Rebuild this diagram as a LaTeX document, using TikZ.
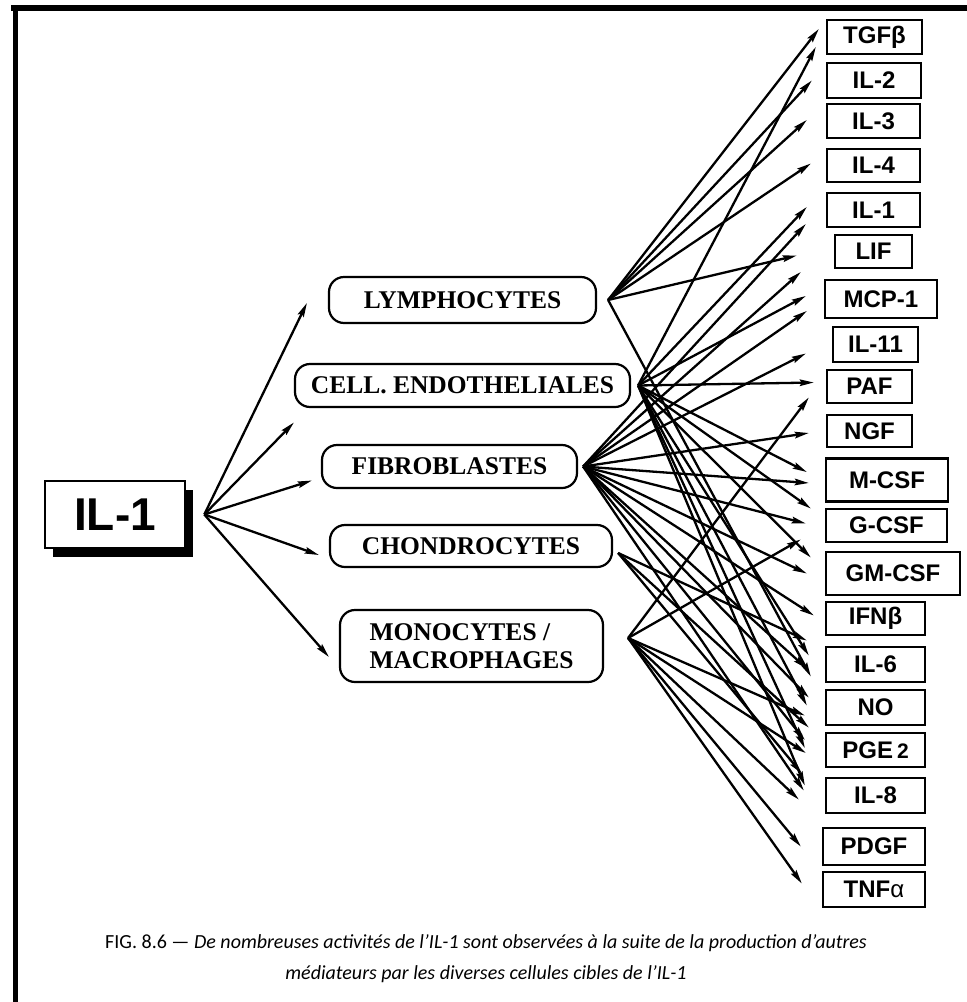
\documentclass[tikz,border=0pt]{standalone}
\usepackage{fontspec}
\setmainfont{Liberation Serif}
\setsansfont{Liberation Sans}
\newfontfamily\capfont{Carlito}
\usetikzlibrary{arrows.meta,shadows}

\begin{document}
\begin{tikzpicture}[x=1pt,y=-1pt,
  arr/.style={line width=2.3pt,-{Stealth[length=14pt,width=6.5pt,inset=2pt]}},
  medbox/.style={draw,line width=2.4pt,inner sep=0pt,
    font=\sffamily\bfseries\fontsize{24}{24}\selectfont},
  cellbox/.style={draw,line width=2.2pt,rounded corners=15pt,inner sep=0pt,
    font=\bfseries\fontsize{25.5}{28}\selectfont},
  mainbox/.style={draw,line width=2.6pt,fill=white,inner sep=0pt,
    minimum width=140pt,minimum height=67pt,
    font=\sffamily\bfseries\fontsize{46}{46}\selectfont,
    drop shadow={shadow xshift=8pt,shadow yshift=-9pt,opacity=1,fill=black}}
]
\useasboundingbox (0,0) rectangle (967,1002);

% frame
\draw[line width=6pt] (11,7.5) -- (967,7.5);
\draw[line width=5pt] (15.5,5) -- (15.5,1002);

% central cytokine
\node[mainbox] (ilmain) at (115,514.5) {IL-1};
\coordinate (hub) at ([xshift=18pt]ilmain.east);

% target cells
\node[cellbox,minimum width=267pt,minimum height=46pt] (lym)  at (462.5,300)   {LYMPHOCYTES};
\node[cellbox,minimum width=335pt,minimum height=43pt] (endo) at (462.5,385.5) {CELL. ENDOTHELIALES};
\node[cellbox,minimum width=255pt,minimum height=43pt] (fib)  at (449.5,466.5) {FIBROBLASTES};
\node[cellbox,minimum width=282pt,minimum height=42pt] (cho)  at (471,546)     {CHONDROCYTES};
\node[cellbox,minimum width=263pt,minimum height=72pt,align=left] (mono) at (471.5,646)
  {MONOCYTES /\\MACROPHAGES};

% IL-1 acts on the cells
\draw[arr] (hub) -- ([shift={(-21,3)}]lym.west);
\draw[arr] (hub) -- ([shift={(0,37)}]endo.west);
\draw[arr] (hub) -- ([shift={(-9,14)}]fib.west);
\draw[arr] (hub) -- ([shift={(-10,9)}]cho.west);
\draw[arr] (hub) -- ([shift={(-10,11)}]mono.west);

% mediators
\foreach \n/\cx/\cy/\w/\h/\txt in {
  tgf/874.5/37/95/34/TGFβ,
  iltwo/874/80.5/94/35/IL-2,
  ilthree/873.5/121/93/34/IL-3,
  ilfour/873.5/165.5/93/33/IL-4,
  ilone/873.5/210/93/34/IL-1,
  lif/873.5/251.5/77/33/LIF,
  mcp/881/299/112/38/MCP-1,
  ileleven/875.5/344.5/85/35/IL-11,
  paf/869.5/386.5/85/33/PAF,
  ngf/869.5/431/85/32/NGF,
  mcsf/887/480/122/43/M-CSF,
  gcsf/886.5/525.5/121/33/G-CSF,
  gmcsf/893/573.5/134/43/GM-CSF,
  ifn/875.5/618.5/99/33/IFNβ,
  ilsix/875.5/664.5/99/35/IL-6,
  no/875.5/707.5/99/35/NO,
  pge/875.5/750/99/34/{PGE\,{\fontsize{21}{21}\selectfont 2}},
  ileight/875.5/795.5/99/35/IL-8,
  pdgf/874/846.5/102/37/PDGF,
  tnf/874/889.5/102/35/{TNF{\mdseries α}}}
  \node[medbox,minimum width=\w pt,minimum height=\h pt] (\n) at (\cx,\cy) {\txt};

% points where the arrows leave the cells
\coordinate (Ls) at ([xshift=11pt]lym.east);
\coordinate (Es) at ([xshift=7pt]endo.east);
\coordinate (Fs) at ([xshift=5pt]fib.east);
\coordinate (Cs) at ([shift={(5,7)}]cho.east);
\coordinate (Ms) at ([shift={(24,-8)}]mono.east);

% mediators produced by each cell type
\foreach \s/\t/\dx/\dy in {
  Ls/tgf/-7/-8, Es/tgf/-10/10, Ls/iltwo/-14/0, Ls/ilthree/-19/-1,
  Ls/ilfour/-15/-2, Es/ilone/-19/-3, Fs/ilone/-20/14, Ls/lif/-37/4,
  Fs/mcp/-23/-27, Es/mcp/-18/-3, Fs/mcp/-17/12, Fs/ileleven/-26/9,
  Es/paf/-12/-4, Ms/paf/-17/11, Fs/ngf/-17/2, Es/mcsf/-18/-8,
  Fs/mcsf/-16/3, Es/gcsf/-14/-17, Fs/gcsf/-19/-2, Ms/gcsf/-24/14,
  Es/gmcsf/-14/-16, Fs/gmcsf/-18/0, Fs/ifn/-11/-3, Cs/ilsix/-18/-24,
  Ls/ilsix/-14/12, Es/ilsix/-16/-9, Fs/ilsix/-18/4, Fs/no/-16/-10,
  Es/no/-18/-2, Cs/no/-16/20, Ms/no/-20/8, Ms/pge/-19/3,
  Es/pge/-20/-2, Fs/pge/-20/-10, Cs/ileight/-23/-22, Ms/ileight/-26/4,
  Fs/ileight/-21/-5, Es/ileight/-20/-10, Ms/pdgf/-21/0, Ms/tnf/-20/-6}
  \draw[arr] (\s) -- ([shift={(\dx,\dy)}]\t.west);

% caption
\node[font=\capfont\fontsize{20}{31}\selectfont,align=center,inner sep=0pt] (cap) at (486,959)
  {FIG. 8.6 — \textit{De nombreuses activités de l’IL-1 sont observées à la suite de la production d’autres}\\
   \textit{médiateurs par les diverses cellules cibles de l’IL-1}};
\end{tikzpicture}
\end{document}
